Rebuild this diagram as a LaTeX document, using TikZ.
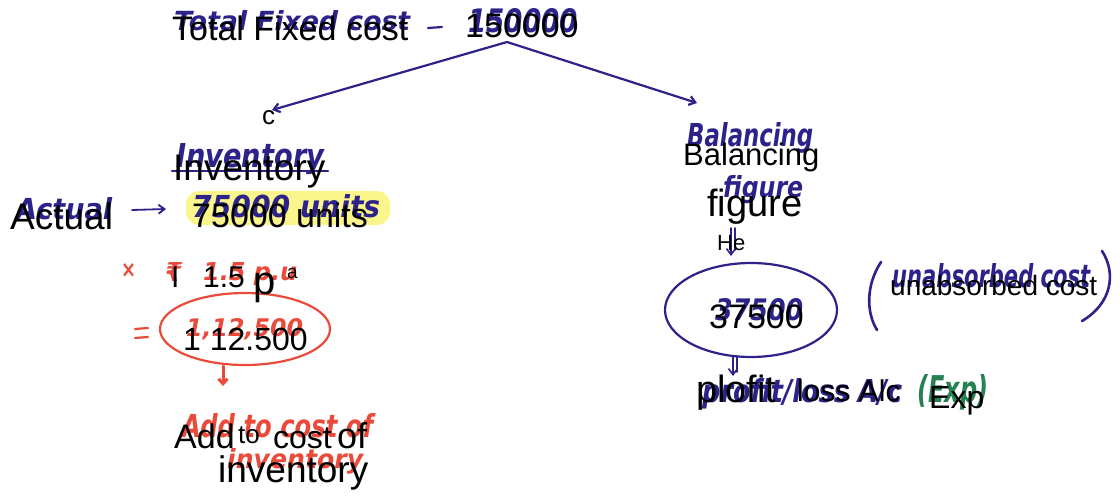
\documentclass[tikz,border=0pt]{standalone}
\usepackage{fontspec}
\setmainfont{Liberation Sans}
\newfontfamily\handfont{DejaVu Sans}
\usetikzlibrary{arrows.meta}

\definecolor{ink}{RGB}{44,34,138}
\definecolor{redink}{RGB}{234,74,58}
\definecolor{greenink}{RGB}{38,130,82}
\definecolor{marker}{RGB}{250,246,140}

% font size helper (1pt = 1 unit of the drawing)
\newcommand\fs[1]{\fontsize{#1}{#1}\selectfont}
% pen-written words, squeezed into a box of given width and height
\newcommand\pen[3]{\resizebox{#1pt}{#2pt}{#3}}

\tikzset{
  typed/.style={inner sep=0pt, anchor=base west, text=black},
  hand/.style={inner sep=0pt, anchor=base west, font=\handfont\bfseries\itshape},
  bluepen/.style={draw=ink, line width=2.2pt, line cap=round, line join=round},
  redpen/.style={draw=redink, line width=2.2pt, line cap=round, line join=round},
  barb/.style={-{Straight Barb[length=6pt,width=9pt]}}
}

\begin{document}
\begin{tikzpicture}[x=1pt,y=-1pt]
\useasboundingbox (0,0) rectangle (1120,498);
\fill[white] (0,0) rectangle (1120,498);

% ---------- highlighter ----------
\fill[marker, rounded corners=13pt] (186,191) rectangle (390,225);

% ---------- pen layer ----------
\node[hand, text=ink] (hTotal) at (174,30) {\pen{236}{20}{Total Fixed cost}};
\draw[bluepen] (428,28) -- (442,27);
\node[hand, text=ink] (hVal) at (468,32) {\pen{110}{24}{150000}};

\coordinate (apex) at (507,42);
\coordinate (tipL) at (272,110);
\coordinate (tipR) at (697,103);
\draw[bluepen, barb] (apex) -- (tipL);
\draw[bluepen, barb] (apex) -- (tipR);

\node[hand, text=ink] (hInv) at (176,167) {\pen{148}{24}{Inventory}};
\draw[bluepen] (172,171) -- (328,171);

\node[hand, text=ink] (hAct) at (16,219) {\pen{96}{22}{Actual}};
\coordinate (actA) at (132,210);
\coordinate (actB) at (166,209);
\draw[bluepen, line width=1.8pt, barb] (actA) -- (actB);
\node[hand, text=ink] (hUnits) at (192,217) {\pen{188}{23}{75000 units}};

\node[hand, text=redink] (hTimes) at (121,277) {\pen{15}{14}{×}};
\node[hand, text=redink] (hRupee) at (165,281) {\pen{17}{19}{₹}};
\node[hand, text=redink] (hRate) at (203,280) {\pen{94}{18}{1.5 p.u}};
\draw[redpen] (135,329) -- (148,328);
\draw[redpen] (135,338) -- (148,337);
\node[hand, text=redink] (hAmt) at (186,336) {\pen{117}{18}{1,12,500}};
\draw[redpen] (245,329) ellipse [x radius=85, y radius=36];
\coordinate (redA) at (223,366);
\coordinate (redB) at (223,386);
\draw[redpen, line width=3pt, -{Straight Barb[length=5pt,width=9pt]}] (redA) -- (redB);
\node[hand, text=redink] (hAdd) at (182,437) {\pen{191}{24}{Add to cost of}};
\node[hand, text=redink] (hInv2) at (227,468) {\pen{136}{20}{inventory}};

\node[hand, text=ink] (hBal) at (687,146) {\pen{126}{24}{Balancing}};
\node[hand, text=ink] (hFig) at (723,197) {\pen{80}{22}{figure}};
\coordinate (figA) at (731,228);
\coordinate (figB) at (731,256);
\draw[bluepen, line width=1.6pt, barb] (figA) -- (figB);
\draw[bluepen, line width=1.6pt] (735,228) -- (735,250);

\draw[bluepen] (751,310) ellipse [x radius=86, y radius=47];
\node[hand, text=ink] (hBalAmt) at (715,320) {\pen{88}{22}{37500}};

\draw[bluepen, line width=2.6pt] (881,262) .. controls (866,285) and (866,312) .. (877,330);
\node[hand, text=ink] (hUnabs) at (892,287) {\pen{198}{24}{unabsorbed cost}};
\draw[bluepen, line width=2.6pt] (1102,251) .. controls (1117,274) and (1111,304) .. (1082,321);

\coordinate (ellA) at (733,357);
\coordinate (ellB) at (733,376);
\draw[bluepen, line width=1.6pt, barb] (ellA) -- (ellB);
\draw[bluepen, line width=1.6pt] (737,357) -- (737,372);
\node[hand, text=ink] (hPL) at (702,402) {\pen{200}{24}{profit/loss A/c}};
\node[hand, text=greenink] (hExp) at (917,402) {\pen{71}{28}{(Exp)}};

% ---------- typed layer ----------
\node[typed, font=\fs{34}] (total) at (172,40) {Total Fixed cost};
\node[typed, font=\fs{34}] (val) at (465,37) {150000};
\node[typed, font=\fs{26}] (cmark) at (262,124) {c};
\node[typed, font=\fs{37}] (inv) at (173,180) {Inventory};
\node[typed, font=\fs{37}] (act) at (10,229) {Actual};
\node[typed, font=\fs{34}] (units) at (192,227) {75000 units};
\node[typed, font=\fs{30}] (iMark) at (171,287) {I};
\node[typed, font=\fs{30}] (rate) at (203,287) {1.5};
\node[typed, font=\fs{40}] (pMark) at (253,294) {p};
\node[typed, font=\fs{19}] (aMark) at (287,278) {a};
\node[typed, font=\fs{32}] (amt) at (183,350) {1 12.500};
\node[typed, font=\fs{34}] (add) at (174,448) {Add};
\node[typed, font=\fs{26}] (to) at (238,443) {to};
\node[typed, font=\fs{32}] (cost) at (273,448) {cost};
\node[typed, font=\fs{36}] (of) at (337,448) {of};
\node[typed, font=\fs{37}] (inv2) at (218,482) {inventory};
\node[typed, font=\fs{31}] (bal) at (683,165) {Balancing};
\node[typed, font=\fs{38}] (fig) at (707,216) {figure};
\node[typed, font=\fs{22}] (he) at (717,250) {He};
\node[typed, font=\fs{34}] (balAmt) at (709,328) {37500};
\node[typed, font=\fs{28}] (unabs) at (890,295) {unabsorbed cost};
\node[typed, font=\fs{38}] (pl) at (696,402) {plofit};
\node[typed, font=\fs{30}] (loss) at (797,401) {loss Alc};
\node[typed, font=\fs{32}] (exp) at (929,408) {Exp};
\end{tikzpicture}
\end{document}
